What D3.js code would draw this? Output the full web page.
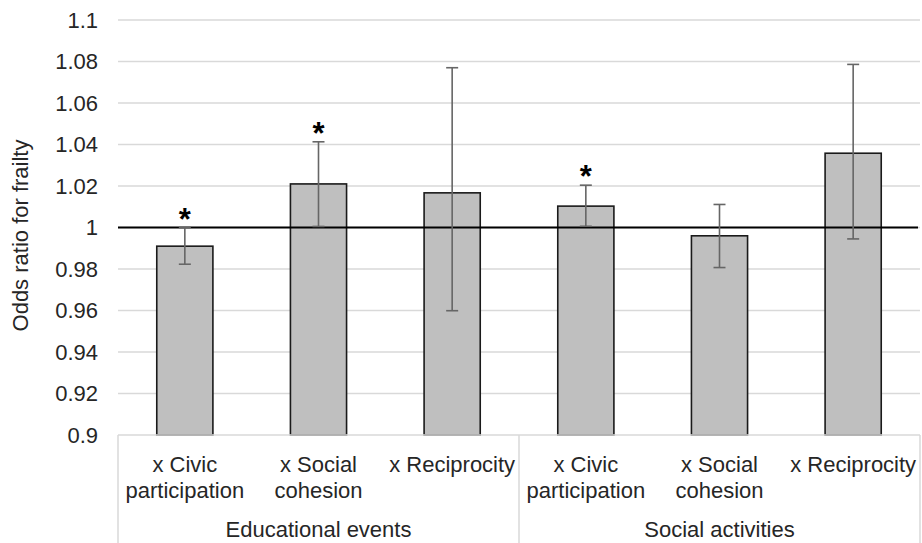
<!DOCTYPE html>
<html>
<head>
<meta charset="utf-8">
<script src="https://cdn.jsdelivr.net/npm/d3@7"></script>
<style>
  body { margin: 0; background: #fff; }
  svg { display: block; font-family: "Liberation Sans", Arial, sans-serif; }
</style>
</head>
<body>
<div id="chart"></div>
<script>
// data
var groups = ["Educational events", "Social activities"];
var subLabels = [["x Civic", "participation"], ["x Social", "cohesion"], ["x Reciprocity"]];
var oddsRatio = [0.991, 1.021, 1.0167, 1.0103, 0.996, 1.0358];
var ciLower = [0.9823, 1.0005, 0.9599, 1.0006, 0.9807, 0.9945];
var ciUpper = [1.0000, 1.0413, 1.0770, 1.0204, 1.0111, 1.0786];
var significant = [true, true, false, true, false, false];
var yTicks = [0.9, 0.92, 0.94, 0.96, 0.98, 1, 1.02, 1.04, 1.06, 1.08, 1.1];

var W = 922, H = 543;
var margin = {left: 118, right: 2, top: 20, bottom: 108};

var svg = d3.select("#chart").append("svg").attr("width", W).attr("height", H);

var keys = [];
groups.forEach(function(g, gi) {
  subLabels.forEach(function(s, si) { keys.push(gi + "_" + si); });
});

var x = d3.scaleBand().domain(keys).range([margin.left, W - margin.right]).paddingInner(0.58).paddingOuter(0.29);
var y = d3.scaleLinear().domain([0.9, 1.1]).range([H - margin.bottom, margin.top]);

// gridlines
svg.append("g").selectAll("line").data(yTicks.slice(1)).enter().append("line")
  .attr("x1", margin.left).attr("x2", W - margin.right)
  .attr("y1", function(d) { return y(d); }).attr("y2", function(d) { return y(d); })
  .attr("stroke", "#d9d9d9").attr("stroke-width", 1.5);

// y axis labels
var yAxis = d3.axisLeft(y).tickValues(yTicks).tickSize(0).tickPadding(20)
  .tickFormat(function(d) { return d3.format("")(+d.toFixed(2)); });
var ya = svg.append("g").attr("transform", "translate(" + margin.left + ",0)").call(yAxis);
ya.select(".domain").remove();
ya.selectAll("text").attr("font-size", 22).attr("fill", "#262626").attr("font-family", "Liberation Sans, Arial, sans-serif");

// y title
svg.append("text").attr("transform", "translate(28," + ((y(0.9) + y(1.1)) / 2 + 8) + ") rotate(-90)")
  .attr("text-anchor", "middle").attr("font-size", 22).attr("fill", "#262626")
  .text("Odds ratio for frailty");

// bars
svg.append("g").selectAll("rect").data(oddsRatio).enter().append("rect")
  .attr("x", function(d, i) { return x(keys[i]); })
  .attr("width", x.bandwidth())
  .attr("y", function(d) { return y(d); })
  .attr("height", function(d) { return y(0.9) - y(d); })
  .attr("fill", "#bfbfbf").attr("stroke", "#1a1a1a").attr("stroke-width", 1.6);

// reference line at 1
svg.append("line").attr("x1", margin.left).attr("x2", W - 4)
  .attr("y1", y(1)).attr("y2", y(1)).attr("stroke", "#000").attr("stroke-width", 2);

// error bars
var eb = svg.append("g").attr("stroke", "#666").attr("stroke-width", 1.6);
oddsRatio.forEach(function(d, i) {
  var cx = x(keys[i]) + x.bandwidth() / 2;
  eb.append("line").attr("x1", cx).attr("x2", cx).attr("y1", y(ciLower[i])).attr("y2", y(ciUpper[i]));
  [ciLower[i], ciUpper[i]].forEach(function(v) {
    eb.append("line").attr("x1", cx - 6).attr("x2", cx + 6).attr("y1", y(v)).attr("y2", y(v));
  });
});

// significance stars
oddsRatio.forEach(function(d, i) {
  if (!significant[i]) return;
  svg.append("text")
    .attr("x", x(keys[i]) + x.bandwidth() / 2)
    .attr("y", y(ciUpper[i]) + 2)
    .attr("text-anchor", "middle").attr("font-size", 31).attr("font-weight", "bold").attr("fill", "#000")
    .text("*");
});

// category axis box
var axisY = y(0.9);
var plotW = W - margin.right - margin.left;
var ax = svg.append("g").attr("stroke", "#d9d9d9").attr("stroke-width", 1.5);
ax.append("line").attr("x1", margin.left).attr("x2", W - margin.right).attr("y1", axisY).attr("y2", axisY);
[0, 1, 2].forEach(function(k) {
  var xx = margin.left + k * plotW / 2;
  ax.append("line").attr("x1", xx).attr("x2", xx).attr("y1", axisY).attr("y2", H);
});

// sub-category labels
keys.forEach(function(k, i) {
  var si = i % 3;
  var cx = x(k) + x.bandwidth() / 2;
  var t = svg.append("text").attr("x", cx).attr("y", axisY + 37)
    .attr("text-anchor", "middle").attr("font-size", 22).attr("fill", "#262626");
  subLabels[si].forEach(function(line, li) {
    t.append("tspan").attr("x", cx).attr("dy", li === 0 ? 0 : 26).text(line);
  });
});

// group labels
groups.forEach(function(g, gi) {
  svg.append("text").attr("x", margin.left + (gi + 0.5) * plotW / 2).attr("y", axisY + 102)
    .attr("text-anchor", "middle").attr("font-size", 22).attr("fill", "#262626").text(g);
});
</script>
</body>
</html>
